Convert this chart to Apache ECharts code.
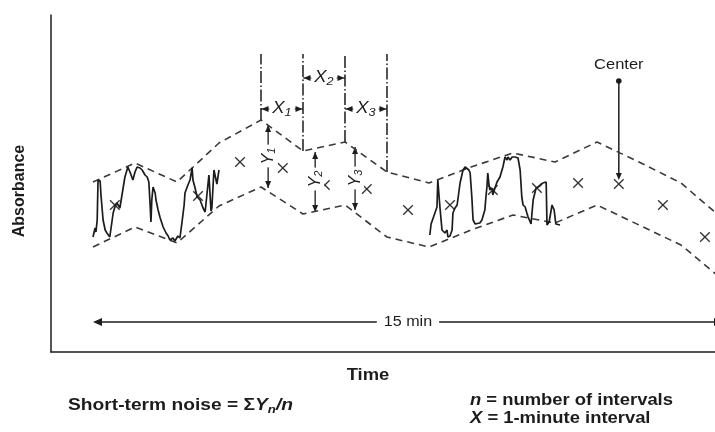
<!DOCTYPE html>
<html>
<head>
<meta charset="utf-8">
<script src="https://cdn.jsdelivr.net/npm/echarts@6/dist/echarts.min.js"></script>
<style>
  html, body { margin: 0; padding: 0; background: #fff; }
  #chart { width: 715px; height: 432px; }
</style>
</head>
<body>
<div id="chart"></div>
<script>
// Baseline noise measured over a 15-minute detector trace.
// Time in minutes, absorbance in arbitrary detector units.
const minutes   = [0, 1, 2, 3, 4, 5, 6, 7, 8, 9, 10, 11, 12, 13, 14, 15];
const upperBand = [170, 189, 170, 209, 232, 201, 210, 180, 169, 185, 199, 190, 210, 190, 169, 133];
const lowerBand = [105, 125, 109, 146, 165, 138, 147, 115, 105, 122, 137, 129, 147, 127, 107, 72];

// Centre of each 1-minute interval
const centerTime  = [0.52, 2.50, 3.50, 4.52, 5.52, 6.52, 7.50, 8.50, 9.52, 10.57, 11.55, 12.52, 13.57, 14.57];
const centerValue = [147, 156, 190, 184, 167, 163, 142, 147, 162, 164, 169, 168, 147, 115];

// Raw detector trace, first 3 minutes
const noiseStart = [[0.00,115],[0.05,124],[0.07,120],[0.10,132],[0.12,172],[0.17,171],[0.19,157],[0.24,132],
  [0.29,122],[0.33,119],[0.40,115],[0.48,139],[0.52,145],[0.57,149],[0.64,144],[0.69,157],[0.76,175],
  [0.83,185],[0.88,180],[0.95,172],[1.00,180],[1.05,185],[1.12,184],[1.17,182],[1.24,177],[1.29,175],
  [1.33,170],[1.36,147],[1.38,130],[1.40,152],[1.43,165],[1.48,159],[1.50,152],[1.55,142],[1.60,134],
  [1.67,125],[1.74,119],[1.79,116],[1.83,112],[1.90,114],[1.95,111],[2.02,116],[2.07,114],[2.12,130],
  [2.17,147],[2.19,159],[2.26,167],[2.31,172],[2.36,184],[2.38,172],[2.43,164],[2.48,155],[2.55,152],
  [2.62,144],[2.67,140],[2.71,142],[2.76,177],[2.79,179],[2.81,141],[2.83,144],[2.86,167],[2.88,182],
  [2.93,172],[2.95,168],[3.00,182]];

// Raw detector trace, minutes 8 to 11
const noiseMiddle = [[8.02,117],[8.05,128],[8.10,134],[8.14,132],[8.19,145],[8.21,172],[8.24,174],[8.26,145],
  [8.31,122],[8.38,119],[8.43,122],[8.45,115],[8.50,116],[8.55,122],[8.57,139],[8.62,144],[8.67,147],
  [8.69,149],[8.74,169],[8.81,182],[8.86,185],[8.90,187],[8.95,182],[8.98,179],[9.00,167],[9.02,155],
  [9.05,132],[9.10,128],[9.14,127],[9.21,129],[9.26,132],[9.33,142],[9.36,157],[9.38,165],[9.40,179],
  [9.43,167],[9.45,162],[9.50,164],[9.52,157],[9.57,164],[9.62,170],[9.64,172],[9.69,175],[9.76,185],
  [9.81,195],[9.86,192],[9.88,195],[9.93,192],[9.98,195],[10.02,193],[10.05,195],[10.12,194],[10.17,182],
  [10.21,155],[10.24,147],[10.29,145],[10.33,139],[10.36,135],[10.43,128],[10.48,152],[10.55,164],
  [10.64,166],[10.71,169],[10.79,170],[10.81,127],[10.86,130],[10.93,147],[10.98,142],[11.02,128],[11.12,127]];

// Interval boundaries (vertical guides) and their dimension labels
const guideMinutes = [4, 5, 6, 7];
const guideTop     = 298;
const dimStart     = [4, 5, 6];
const dimEnd       = [5, 6, 7];
const dimLevel     = [243, 274, 243];
const dimSubs      = ['1', '2', '3'];

// Peak-to-peak spans Y1..Y3
const spanTime   = [4.17, 5.29, 6.24];
const spanTop    = [227, 200, 205];
const spanBottom = [164, 140, 142];
const spanLabel  = [196, 173, 174];
const spanSubs   = ['1', '2', '3'];

// "Center" pointer and the 15-minute span
const pointerTime = 12.52, pointerFrom = 271, pointerTo = 172;
const spanMinutes = [0, 15], spanLevel = 30;

const ink = '#1c1c1c';
const FONT = "'Liberation Sans', Arial, Helvetica, sans-serif";

const measureCtx = document.createElement('canvas').getContext('2d');
function runFont(r) {
  return (r.italic ? 'italic ' : '') + (r.bold ? 'bold ' : '') + r.size + 'px ' + FONT;
}
function runWidth(r) {
  measureCtx.font = runFont(r);
  return measureCtx.measureText(r.text).width;
}
// Builds a row of differently styled text runs (used for subscripts)
function textRow(runs, opts) {
  const widths = runs.map(runWidth);
  const total = widths.reduce((a, b) => a + b, 0);
  let cx = opts.anchor === 'center' ? -total / 2 : 0;
  const children = runs.map((r, i) => {
    const el = {
      type: 'text', x: cx, y: r.dy || 0, silent: true,
      style: {
        text: r.text, fill: ink, fontFamily: FONT, fontSize: r.size,
        fontWeight: r.bold ? 'bold' : 'normal', fontStyle: r.italic ? 'italic' : 'normal',
        align: 'left', verticalAlign: 'middle'
      }
    };
    cx += widths[i];
    return el;
  });
  return {
    el: { type: 'group', x: opts.x, y: opts.y, scaleX: opts.scaleX || 1, scaleY: opts.scaleY || 1,
          rotation: opts.rotation || 0, silent: true, children },
    width: total * (opts.scaleX || 1)
  };
}
function arrowHead(tip, dir, len, half) {
  const bx = tip[0] - dir[0] * len, by = tip[1] - dir[1] * len;
  return {
    type: 'polygon',
    shape: { points: [[tip[0], tip[1]], [bx - dir[1] * half, by + dir[0] * half], [bx + dir[1] * half, by - dir[0] * half]] },
    style: { fill: ink }
  };
}

const chart = echarts.init(document.getElementById('chart'), null, { renderer: 'canvas' });

const bandStyle = { color: '#3a3a3a', width: 1.6, type: [7, 5] };
const traceStyle = { color: ink, width: 1.7 };

const option = {
  animation: false,
  backgroundColor: '#fff',
  grid: { left: 51, right: 0, top: 15, bottom: 80 },
  xAxis: {
    type: 'value', min: -1, max: 14.81,
    axisLine: { show: true, onZero: false, lineStyle: { color: ink, width: 1.5 } },
    axisTick: { show: false }, axisLabel: { show: false }, splitLine: { show: false }
  },
  yAxis: {
    type: 'value', min: 0, max: 337,
    axisLine: { show: true, onZero: false, lineStyle: { color: ink, width: 1.5 } },
    axisTick: { show: false }, axisLabel: { show: false }, splitLine: { show: false }
  },
  graphic: [
    {
      type: 'text', x: 20, y: 191, rotation: Math.PI / 2, silent: true,
      style: { text: 'Absorbance', fill: ink, fontFamily: FONT, fontSize: 16, fontWeight: 'bold',
               align: 'center', verticalAlign: 'middle' }
    },
    textRow([{ text: 'Time', bold: true, size: 16 }], { x: 368, y: 376, anchor: 'center', scaleX: 1.15 }).el,
    textRow([
      { text: 'Short-term noise = Σ', bold: true, size: 16 },
      { text: 'Y', bold: true, italic: true, size: 16 },
      { text: 'n', bold: true, italic: true, size: 11, dy: 4 },
      { text: '/n', bold: true, italic: true, size: 16 }
    ], { x: 68, y: 406, scaleX: 1.2 }).el,
    textRow([
      { text: 'n', bold: true, italic: true, size: 16 },
      { text: ' = number of intervals', bold: true, size: 16 }
    ], { x: 470, y: 401, scaleX: 1.15 }).el,
    textRow([
      { text: 'X', bold: true, italic: true, size: 16 },
      { text: ' = 1-minute interval', bold: true, size: 16 }
    ], { x: 470, y: 419, scaleX: 1.15 }).el
  ],
  series: [
    { name: 'Upper band', type: 'line', data: minutes.map((t, i) => [t, upperBand[i]]),
      symbol: 'none', lineStyle: bandStyle, silent: true },
    { name: 'Lower band', type: 'line', data: minutes.map((t, i) => [t, lowerBand[i]]),
      symbol: 'none', lineStyle: bandStyle, silent: true },
    { name: 'Trace 0-3 min', type: 'line', data: noiseStart, symbol: 'none', lineStyle: traceStyle, silent: true },
    { name: 'Trace 8-11 min', type: 'line', data: noiseMiddle, symbol: 'none', lineStyle: traceStyle, silent: true },
    {
      name: 'Interval centre', type: 'custom', silent: true,
      data: centerTime.map((t, i) => [t, centerValue[i]]),
      renderItem(params, api) {
        const c = api.coord([api.value(0), api.value(1)]);
        const r = 4.8;
        const st = { stroke: '#333', lineWidth: 1.3 };
        return { type: 'group', children: [
          { type: 'line', shape: { x1: c[0] - r, y1: c[1] - r, x2: c[0] + r, y2: c[1] + r }, style: st },
          { type: 'line', shape: { x1: c[0] + r, y1: c[1] - r, x2: c[0] - r, y2: c[1] + r }, style: st }
        ] };
      }
    },
    {
      name: 'Interval guides', type: 'custom', silent: true,
      data: guideMinutes.map(t => [t, upperBand[minutes.indexOf(t)], guideTop]),
      renderItem(params, api) {
        const a = api.coord([api.value(0), api.value(1)]);
        const b = api.coord([api.value(0), api.value(2)]);
        return { type: 'line', shape: { x1: a[0], y1: a[1], x2: b[0], y2: b[1] },
                 style: { stroke: ink, lineWidth: 1.5, lineDash: [12, 2.5, 1.5, 2.5] } };
      }
    },
    {
      name: 'Interval widths', type: 'custom', silent: true,
      data: dimStart.map((t, i) => [t, dimEnd[i], dimLevel[i]]),
      renderItem(params, api) {
        const a = api.coord([api.value(0), api.value(2)]);
        const b = api.coord([api.value(1), api.value(2)]);
        const mx = (a[0] + b[0]) / 2;
        const lab = textRow([
          { text: 'X', italic: true, size: 16 },
          { text: dimSubs[params.dataIndex], italic: true, size: 11, dy: 4 }
        ], { x: mx, y: a[1], anchor: 'center', scaleX: 1.15 });
        return { type: 'group', children: [
          { type: 'line', shape: { x1: a[0], y1: a[1], x2: b[0], y2: b[1] }, style: { stroke: ink, lineWidth: 1.2 } },
          arrowHead([a[0] + 0.5, a[1]], [-1, 0], 7, 3),
          arrowHead([b[0] - 0.5, b[1]], [1, 0], 7, 3),
          { type: 'rect', shape: { x: mx - lab.width / 2 - 3, y: a[1] - 8, width: lab.width + 6, height: 16 },
            style: { fill: '#fff' } },
          lab.el
        ] };
      }
    },
    {
      name: 'Peak-to-peak spans', type: 'custom', silent: true,
      data: spanTime.map((t, i) => [t, spanTop[i], spanBottom[i], spanLabel[i]]),
      renderItem(params, api) {
        const x = api.coord([api.value(0), 0])[0];
        const top = api.coord([api.value(0), api.value(1)])[1];
        const bot = api.coord([api.value(0), api.value(2)])[1];
        const mid = api.coord([api.value(0), api.value(3)])[1];
        const lab = textRow([
          { text: 'Y', italic: true, size: 16 },
          { text: spanSubs[params.dataIndex], italic: true, size: 11, dy: 4 }
        ], { x: x, y: mid, anchor: 'center', rotation: Math.PI / 2 });
        return { type: 'group', children: [
          { type: 'line', shape: { x1: x, y1: top, x2: x, y2: bot }, style: { stroke: ink, lineWidth: 1.3 } },
          arrowHead([x, top], [0, -1], 7, 3),
          arrowHead([x, bot], [0, 1], 7, 3),
          { type: 'rect', shape: { x: x - 9, y: mid - lab.width / 2 - 3, width: 18, height: lab.width + 6 },
            style: { fill: '#fff' } },
          lab.el
        ] };
      }
    },
    {
      name: 'Center pointer', type: 'custom', silent: true,
      data: [[pointerTime, pointerFrom, pointerTo]],
      renderItem(params, api) {
        const a = api.coord([api.value(0), api.value(1)]);
        const b = api.coord([api.value(0), api.value(2)]);
        return { type: 'group', children: [
          { type: 'line', shape: { x1: a[0], y1: a[1], x2: b[0], y2: b[1] - 4 }, style: { stroke: ink, lineWidth: 1.5 } },
          { type: 'circle', shape: { cx: a[0], cy: a[1], r: 2.8 }, style: { fill: ink } },
          arrowHead([b[0], b[1]], [0, 1], 7, 3),
          textRow([{ text: 'Center', size: 15 }], { x: a[0], y: a[1] - 16, anchor: 'center', scaleX: 1.1 }).el
        ] };
      }
    },
    {
      name: 'Run length', type: 'custom', silent: true,
      data: [[spanMinutes[0], spanMinutes[1], spanLevel]],
      renderItem(params, api) {
        const a = api.coord([api.value(0), api.value(2)]);
        const b = api.coord([api.value(1), api.value(2)]);
        const mx = (a[0] + b[0]) / 2;
        const lab = textRow([{ text: '15 min', size: 14 }], { x: mx, y: a[1], anchor: 'center', scaleX: 1.15 });
        return { type: 'group', children: [
          { type: 'line', shape: { x1: a[0] + 4, y1: a[1], x2: b[0] - 4, y2: b[1] }, style: { stroke: ink, lineWidth: 1.3 } },
          arrowHead([a[0], a[1]], [-1, 0], 9, 4),
          arrowHead([b[0], b[1]], [1, 0], 9, 4),
          { type: 'rect', shape: { x: mx - lab.width / 2 - 7, y: a[1] - 8, width: lab.width + 14, height: 16 },
            style: { fill: '#fff' } },
          lab.el
        ] };
      }
    }
  ]
};

chart.setOption(option);
</script>
</body>
</html>
